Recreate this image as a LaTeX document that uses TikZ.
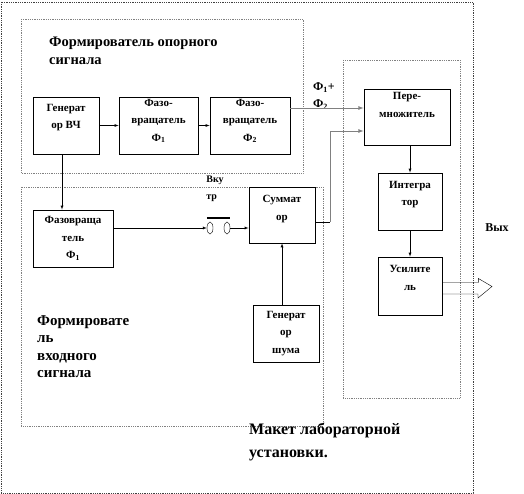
\documentclass[tikz,border=0pt]{standalone}
\usepackage{fontspec}
\setmainfont{Liberation Serif}
\usetikzlibrary{shapes.geometric}
\begin{document}
\begin{tikzpicture}[
		x=1pt, y=-1pt,
		blk/.style={draw, thick, inner sep=0pt, align=center, font=\fontsize{11}{17.5}\selectfont\bfseries},
		grp/.style={draw=gray, densely dotted, thick},
		ttl/.style={inner sep=0pt, align=left, anchor=north west, font=\fontsize{14.5}{18}\selectfont\bfseries},
		sml/.style={inner sep=0pt, align=left, font=\fontsize{10}{17}\selectfont\bfseries},
		every path/.style={>=latex},
		]
		\useasboundingbox (0,0) rectangle (524,494);
		% frames
		\draw[grp, draw=black!75] (1,2) rectangle (473,493);
		\draw[grp] (21,19) rectangle (303,173);
		\draw[grp] (21,187) rectangle (323,426);
		\draw[grp] (343,60) rectangle (460,398);
		\node[ttl] (top) at (49,37) {Формирователь опорного\\сигнала};
		\node[ttl, font=\fontsize{15}{17.5}\selectfont\bfseries] (inp) at (37,315) {Формировате\\ль\\входного\\сигнала};
		\node[ttl, font=\fontsize{16}{23}\selectfont\bfseries] (mak) at (249,423) {Макет лабораторной\\установки.};
		% blocks
		\node[blk, minimum width=66, minimum height=57, text depth=18pt] (gen) at (66,125.5) {Генерат\\ор ВЧ};
		\node[blk, minimum width=79, minimum height=57, text depth=11pt] (ph1) at (158.5,125.5) {Фазо-\\вращатель\\Ф\textsubscript{1}};
		\node[blk, minimum width=80, minimum height=57, text depth=11pt] (ph2) at (250,125.5) {Фазо-\\вращатель\\Ф\textsubscript{2}};
		\node[blk, minimum width=80, minimum height=57] (phin) at (73,238.5) {Фазовраща\\тель\\Ф\textsubscript{1}};
		\node[blk, minimum width=66, minimum height=56, text depth=14pt] (sum) at (282,215) {Суммат\\ор};
		\node[blk, minimum width=66, minimum height=57] (noise) at (286,333.5) {Генерат\\ор\\шума};
		\node[blk, minimum width=86, minimum height=56, text depth=24pt] (mul) at (407,117) {Пере-\\множитель};
		\node[blk, minimum width=64, minimum height=57, text depth=16pt] (int) at (410,201.5) {Интегра\\тор};
		\node[blk, minimum width=64, minimum height=58, text depth=16pt] (amp) at (410,286) {Усилите\\ль};
		% switch
		\node[ellipse, draw, minimum width=6, minimum height=12, inner sep=0pt] (sw1) at (210,228) {};
		\node[ellipse, draw, minimum width=6, minimum height=12, inner sep=0pt] (sw2) at (227,228) {};
		\node[sml] (swl) at (215,189) {Вку\\тр};
		\node[sml, font=\fontsize{12}{12}\selectfont\bfseries] (vyh) at (497,228) {Вых};
		\node[sml, font=\fontsize{12}{17}\selectfont\bfseries] (sumlbl) at (324,96) {Ф\textsubscript{1}+\\Ф\textsubscript{2}};
		\coordinate (out) at (492,286.5);
		\coordinate (bend) at (330,222);
		% connectors
		\draw[->] (gen) -- (ph1);
		\draw[->] (ph1) -- (ph2);
		\draw[->, gray, thick] ([yshift=17.5pt]ph2.east) -- ([yshift=17.5pt]ph2.east -| mul.west);
		\draw[->] ([xshift=-4pt]gen.south) -- ([xshift=-4pt]gen.south |- phin.north);
		\draw[->] ([yshift=10.5pt]phin.east) -- (sw1.west);
		\draw[line width=2pt] ([yshift=10pt]sw1.west) -- ([yshift=10pt]sw2.east);
		\draw[->] (sw2.east) -- (sw2.east -| sum.west);
		\draw[->] ([xshift=-4pt]noise.north) -- ([xshift=-4pt]noise.north |- sum.south);
		\draw (sum.east |- bend) -- (bend);
		\draw[->, gray, thick] (bend) -- ([yshift=-14pt]bend |- mul.west) -- ([yshift=-14pt]mul.west);
		\draw[->] (mul.south -| int.north) -- (int.north);
		\draw[->] (int) -- (amp);
		\draw (amp.east) ++(0,-3.5) -- ++(36,0) -- ++(0,-4) -- (out) -- ++(-14,11.5) -- ++(0,-4) -- ++(-36,0);
	\end{tikzpicture}
\end{document}
